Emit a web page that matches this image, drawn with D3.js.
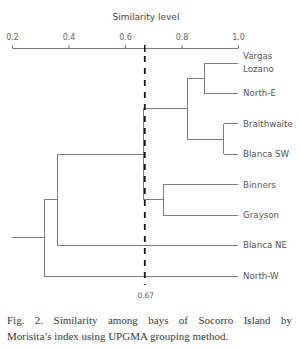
<!DOCTYPE html>
<html><head><meta charset="utf-8">
<script src="https://cdn.jsdelivr.net/npm/d3@7"></script>
<style>
html,body{margin:0;padding:0;background:#fff;}
svg{display:block;}
</style></head>
<body>
<svg id="c" width="299" height="348"></svg>
<script>
// ---- data ----
const leaves = ["Vargas\nLozano", "North-E", "Braithwaite", "Blanca SW", "Binners", "Grayson", "Blanca NE", "North-W"];
// merges: [clusterA, clusterB, similarity]; ids >= leaves.length are earlier merges
const mergeA = [0, 2, 8, 4, 10, 12, 13];
const mergeB = [1, 3, 9, 5, 11, 6, 7];
const mergeSim = [0.88, 0.95, 0.82, 0.735, 0.665, 0.36, 0.315];
const tickValues = [0.2, 0.4, 0.6, 0.8, 1.0];
const cutoff = 0.67;
const axisTitle = "Similarity level";
const captionLines = ["Fig. 2. Similarity among bays of Socorro Island by", "Morisita\u2019s index using UPGMA grouping method."];

// ---- build tree ----
const nodes = leaves.map((name, i) => ({ name, sim: 1.0, children: null }));
mergeSim.forEach((s, i) => {
  nodes.push({ name: "n" + i, sim: s, children: [nodes[mergeA[i]], nodes[mergeB[i]]] });
});
const root = d3.hierarchy(nodes[nodes.length - 1]);

const svg = d3.select("#c");
const x = d3.scaleLinear().domain([0.2, 1.0]).range([12, 238]);
const y = d3.scalePoint().domain(leaves).range([63, 276]);

// positions
root.eachAfter(d => {
  d.px = x(d.data.sim);
  d.py = d.children ? d3.mean(d.children, c => c.py) : y(d.data.name);
});

// ---- axis ----
const axisG = svg.append("g").attr("transform", "translate(0,48)")
  .call(d3.axisTop(x).tickValues(tickValues).tickFormat(d3.format(".1f")).tickSize(3).tickSizeOuter(0).tickPadding(5));
axisG.select(".domain").attr("stroke", "#777").attr("stroke-width", 1);
axisG.selectAll(".tick line").attr("stroke", "#777");
axisG.selectAll(".tick text").attr("fill", "#666").attr("font-family", "DejaVu Sans").attr("font-size", 8);

svg.append("text").attr("x", 146).attr("y", 20).attr("text-anchor", "middle")
  .attr("font-family", "DejaVu Sans").attr("font-size", 9).attr("fill", "#444").text(axisTitle);

// ---- dendrogram ----
const lineCol = "#7a7a7a";
const g = svg.append("g").attr("stroke", lineCol).attr("stroke-width", 1).attr("fill", "none").attr("shape-rendering", "crispEdges");
root.descendants().forEach(d => {
  if (d.children) {
    g.append("line").attr("x1", d.px).attr("x2", d.px)
      .attr("y1", d.children[0].py).attr("y2", d.children[1].py);
    d.children.forEach(c => {
      g.append("line").attr("x1", d.px).attr("x2", c.px).attr("y1", c.py).attr("y2", c.py);
    });
  }
});
// root stub
g.append("line").attr("x1", x(0.2)).attr("x2", root.px).attr("y1", root.py).attr("y2", root.py);

// leaf labels
root.leaves().forEach(l => {
  const parts = l.data.name.split("\n");
  const t = svg.append("text").attr("x", 243).attr("y", l.py)
    .attr("font-family", "DejaVu Sans").attr("font-size", 8.7).attr("fill", "#555");
  const off = -(parts.length - 1) * 6.5;
  parts.forEach((p, i) => {
    t.append("tspan").attr("x", 243).attr("y", l.py + off + i * 13).attr("dy", "0.33em").text(p);
  });
});

// ---- cutoff ----
svg.append("line").attr("x1", x(cutoff)).attr("x2", x(cutoff)).attr("y1", 45).attr("y2", 52)
  .attr("stroke", "#111").attr("stroke-width", 1.5);
svg.append("line").attr("x1", x(cutoff)).attr("x2", x(cutoff)).attr("y1", 56).attr("y2", 285)
  .attr("stroke", "#111").attr("stroke-width", 1.8).attr("stroke-dasharray", "6,6");
svg.append("text").attr("x", x(cutoff) + 1).attr("y", 298).attr("text-anchor", "middle")
  .attr("font-family", "DejaVu Sans").attr("font-size", 7.5).attr("fill", "#555").text(d3.format(".2f")(cutoff));

// ---- caption ----
const cap = svg.append("g").attr("font-family", "Liberation Serif").attr("font-size", 11).attr("fill", "#3a3a3a");
const l1 = cap.append("text").attr("x", 7).attr("y", 324).text(captionLines[0]);
const w1 = l1.node().getComputedTextLength();
const spaces = captionLines[0].split(" ").length - 1;
l1.attr("word-spacing", (285 - w1) / spaces);
cap.append("text").attr("x", 7).attr("y", 340).text(captionLines[1]);
</script>
</body></html>
